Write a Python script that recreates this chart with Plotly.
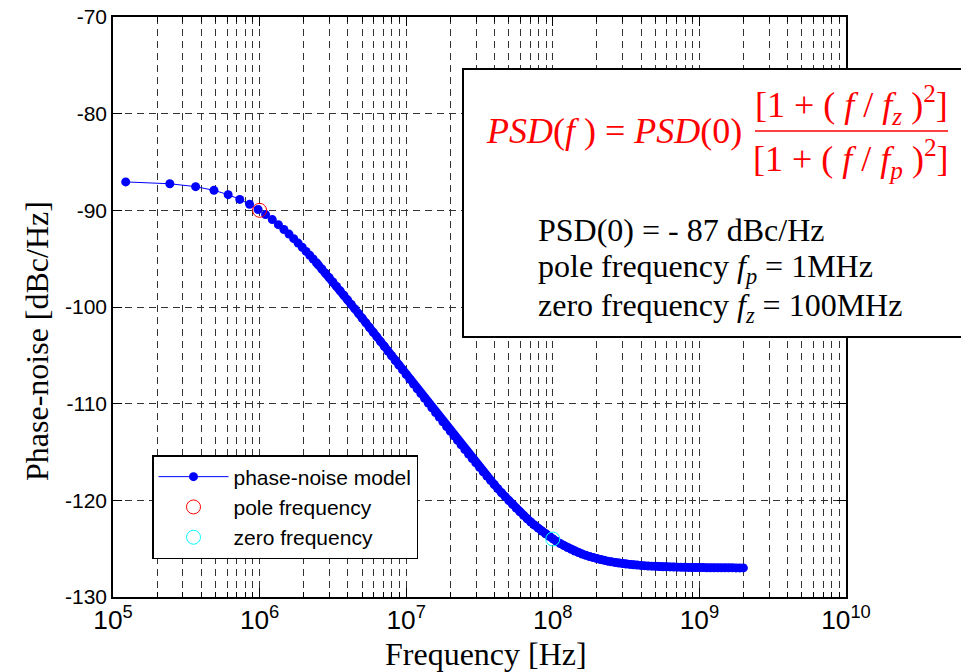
import plotly.graph_objects as go

# ---------------- data ----------------
# low-frequency samples (MHz) - individually visible markers
freq_low_mhz = [0.1221, 0.2441, 0.3662, 0.4883, 0.6104, 0.7324, 0.8545, 0.9766, 1.0986, 1.2207,
                1.3428, 1.4648, 1.5869, 1.7090, 1.8311, 1.9531, 2.0752, 2.1973, 2.3193, 2.4414]
psd_low = [-87.06, -87.25, -87.55, -87.93, -88.38, -88.87, -89.38, -89.91, -90.44, -90.96,
           -91.48, -91.98, -92.46, -92.93, -93.39, -93.82, -94.25, -94.65, -95.04, -95.42]

# dense part of the curve (MHz)
freq_high_mhz = [2.512, 2.661, 2.818, 2.985, 3.162, 3.350, 3.548, 3.758, 3.981, 4.217, 4.467, 4.732,
                 5.012, 5.309, 5.623, 5.957, 6.310, 6.683, 7.079, 7.499, 7.943, 8.414, 8.913, 9.441,
                 10.00, 10.59, 11.22, 11.89, 12.59, 13.34, 14.13, 14.96, 15.85, 16.79, 17.78, 18.84,
                 19.95, 21.13, 22.39, 23.71, 25.12, 26.61, 28.18, 29.85, 31.62, 33.50, 35.48, 37.58,
                 39.81, 42.17, 44.67, 47.32, 50.12, 53.09, 56.23, 59.57, 63.10, 66.83, 70.79, 74.99,
                 79.43, 84.14, 89.13, 94.41,
                 100.0, 105.9, 112.2, 118.9, 125.9, 133.4, 141.3, 149.6, 158.5, 167.9, 177.8, 188.4,
                 199.5, 211.3, 223.9, 237.1, 251.2, 266.1, 281.8, 298.5, 316.2, 335.0, 354.8, 375.8,
                 398.1, 421.7, 446.7, 473.2, 501.2, 530.9, 562.3, 595.7, 631.0, 668.3, 707.9, 749.9,
                 794.3, 841.4, 891.3, 944.1,
                 1000, 1059, 1122, 1189, 1259, 1334, 1413, 1496, 1585, 1679, 1778, 1884, 1995]
psd_high = [-95.64, -96.07, -96.51, -96.96, -97.41, -97.87, -98.33, -98.79, -99.26, -99.73,
            -100.20, -100.68, -101.16, -101.64, -102.12, -102.61, -103.09, -103.58, -104.06, -104.55,
            -105.04, -105.53, -106.02, -106.51, -107.00, -107.49, -107.98, -108.47, -108.96, -109.45,
            -109.94, -110.42, -110.91, -111.39, -111.88, -112.36, -112.84, -113.32, -113.80, -114.27,
            -114.74, -115.21, -115.67, -116.13, -116.59, -117.04, -117.49, -117.93, -118.36, -118.79,
            -119.21, -119.62, -120.03, -120.42, -120.81, -121.18, -121.55, -121.90, -122.24, -122.56,
            -122.88, -123.18, -123.46, -123.73,
            -123.99,
            -124.23, -124.46, -124.68, -124.88, -125.06, -125.24, -125.40, -125.55, -125.68, -125.81,
            -125.92, -126.03, -126.12, -126.21, -126.29, -126.36, -126.43, -126.49, -126.54, -126.59,
            -126.63, -126.67, -126.70, -126.73, -126.76, -126.79, -126.81, -126.83, -126.85, -126.87,
            -126.88, -126.89, -126.90, -126.91, -126.92, -126.93, -126.94, -126.95, -126.95, -126.96,
            -126.96, -126.97, -126.97, -126.97, -126.98, -126.98, -126.98, -126.98, -126.98, -126.99,
            -126.99, -126.99]

pole_freq = [1e6]
pole_psd = [-90]
zero_freq = [1e8]
zero_psd = [-124]

x_range_exp = [5, 10]
y_range = [-130, -70]
y_ticks = [-130, -120, -110, -100, -90, -80, -70]
y_tick_labels = ["-130", "-120", "-110", "-100", "-90", "-80", "-70"]

# ---------------- layout helpers ----------------
W, H = 961, 672
ML, MR, MT, MB = 113, 115, 17, 75
PW, PH = W - ML - MR, H - MT - MB


def px(x):
    return (x - ML) / PW


def py(y):
    return (H - MB - y) / PH


freq_hz = [f * 1e6 for f in freq_low_mhz + freq_high_mhz]
freq_high_hz = [f * 1e6 for f in freq_high_mhz]
psd = psd_low + psd_high
BLUE = "#0000FF"

fig = go.Figure()
# thick band formed by the densely packed markers
fig.add_trace(go.Scatter(x=freq_high_hz, y=psd_high, mode="lines", showlegend=False,
                         hoverinfo="skip", line=dict(color=BLUE, width=8)))
fig.add_trace(go.Scatter(x=freq_hz, y=psd, mode="lines+markers", name="phase-noise model",
                         line=dict(color=BLUE, width=1),
                         marker=dict(color=BLUE, size=9)))
fig.add_trace(go.Scatter(x=pole_freq, y=pole_psd, mode="markers", name="pole frequency",
                         marker=dict(symbol="circle-open", color="#FF0000", size=14,
                                     line=dict(width=1, color="#FF0000"))))
fig.add_trace(go.Scatter(x=zero_freq, y=zero_psd, mode="markers", name="zero frequency",
                         marker=dict(symbol="circle-open", color="#00FFFF", size=14,
                                     line=dict(width=1, color="#00FFFF"))))

grid_col = "#333333"
grid_dash = "7px,5px"
tick_font = dict(family="Liberation Sans, Arial", size=21, color="black")

fig.update_xaxes(type="log", range=x_range_exp, dtick=1,
                 exponentformat="power", showexponent="all",
                 showline=True, linecolor="black", linewidth=1.5, mirror="ticks",
                 ticks="inside", ticklen=9, tickcolor="black", tickwidth=1,
                 showgrid=True, gridcolor=grid_col, gridwidth=1, griddash=grid_dash,
                 minor=dict(dtick="D1", showgrid=True, gridcolor=grid_col, gridwidth=1,
                            griddash=grid_dash, ticks="inside", ticklen=5,
                            tickcolor="black", tickwidth=1),
                 tickfont=tick_font, zeroline=False)
fig.update_yaxes(range=y_range, tickvals=y_ticks, ticktext=y_tick_labels,
                 showline=True, linecolor="black", linewidth=1.5, mirror="ticks",
                 ticks="inside", ticklen=9, tickcolor="black", tickwidth=1,
                 showgrid=True, gridcolor=grid_col, gridwidth=1, griddash=grid_dash,
                 tickfont=tick_font, zeroline=False)

serif = "Liberation Serif, Times New Roman"
annotations = [
    dict(text="Frequency [Hz]", x=px(486), y=py(654), xref="paper", yref="paper",
         xanchor="center", yanchor="middle", showarrow=False,
         font=dict(family=serif, size=32, color="black")),
    dict(text="Phase-noise [dBc/Hz]", x=px(37), y=py(341), xref="paper", yref="paper",
         xanchor="center", yanchor="middle", showarrow=False, textangle=-90,
         font=dict(family=serif, size=32, color="black")),
    # formula
    dict(text="<i>PSD</i>(<i>f</i> ) = <i>PSD</i>(0)", x=px(484), y=py(131),
         xref="paper", yref="paper", xanchor="left", yanchor="middle", showarrow=False,
         font=dict(family=serif, size=36, color="#FF0000")),
    dict(text="[1 + ( <i>f</i> / <i>f</i><sub><i>z</i></sub> )<sup>2</sup>]", x=px(851), y=py(105),
         xref="paper", yref="paper", xanchor="center", yanchor="middle", showarrow=False,
         font=dict(family=serif, size=36, color="#FF0000")),
    dict(text="[1 + ( <i>f</i> / <i>f</i><sub><i>p</i></sub> )<sup>2</sup>]", x=px(851), y=py(159),
         xref="paper", yref="paper", xanchor="center", yanchor="middle", showarrow=False,
         font=dict(family=serif, size=36, color="#FF0000")),
    # parameters
    dict(text="PSD(0) = - 87 dBc/Hz", x=px(536), y=py(230),
         xref="paper", yref="paper", xanchor="left", yanchor="middle", showarrow=False,
         font=dict(family=serif, size=32, color="black")),
    dict(text="pole frequency <i>f</i><sub><i>p</i></sub> = 1MHz", x=px(536), y=py(268),
         xref="paper", yref="paper", xanchor="left", yanchor="middle", showarrow=False,
         font=dict(family=serif, size=32, color="black")),
    dict(text="zero frequency <i>f</i><sub><i>z</i></sub> = 100MHz", x=px(536), y=py(307),
         xref="paper", yref="paper", xanchor="left", yanchor="middle", showarrow=False,
         font=dict(family=serif, size=32, color="black")),
]

shapes = [
    dict(type="rect", xref="paper", yref="paper", x0=px(463), x1=px(975), y0=py(337), y1=py(69),
         fillcolor="white", line=dict(color="black", width=2), layer="above"),
    dict(type="line", xref="paper", yref="paper", x0=px(755), x1=px(948), y0=py(131), y1=py(131),
         line=dict(color="#FF0000", width=1.5), layer="above"),
]

fig.update_layout(
    width=W, height=H, margin=dict(l=ML, r=MR, t=MT, b=MB, autoexpand=False),
    paper_bgcolor="white", plot_bgcolor="white",
    showlegend=True,
    legend=dict(x=px(152), y=py(455), xanchor="left", yanchor="top",
                bgcolor="white", bordercolor="black", borderwidth=1.5,
                font=dict(family="Liberation Sans, Arial", size=21, color="black"),
                itemwidth=70, tracegroupgap=0),
    annotations=annotations, shapes=shapes,
)

fig.write_html("out.html", config={"displayModeBar": False},
               post_script="document.body.style.margin='0px';")
